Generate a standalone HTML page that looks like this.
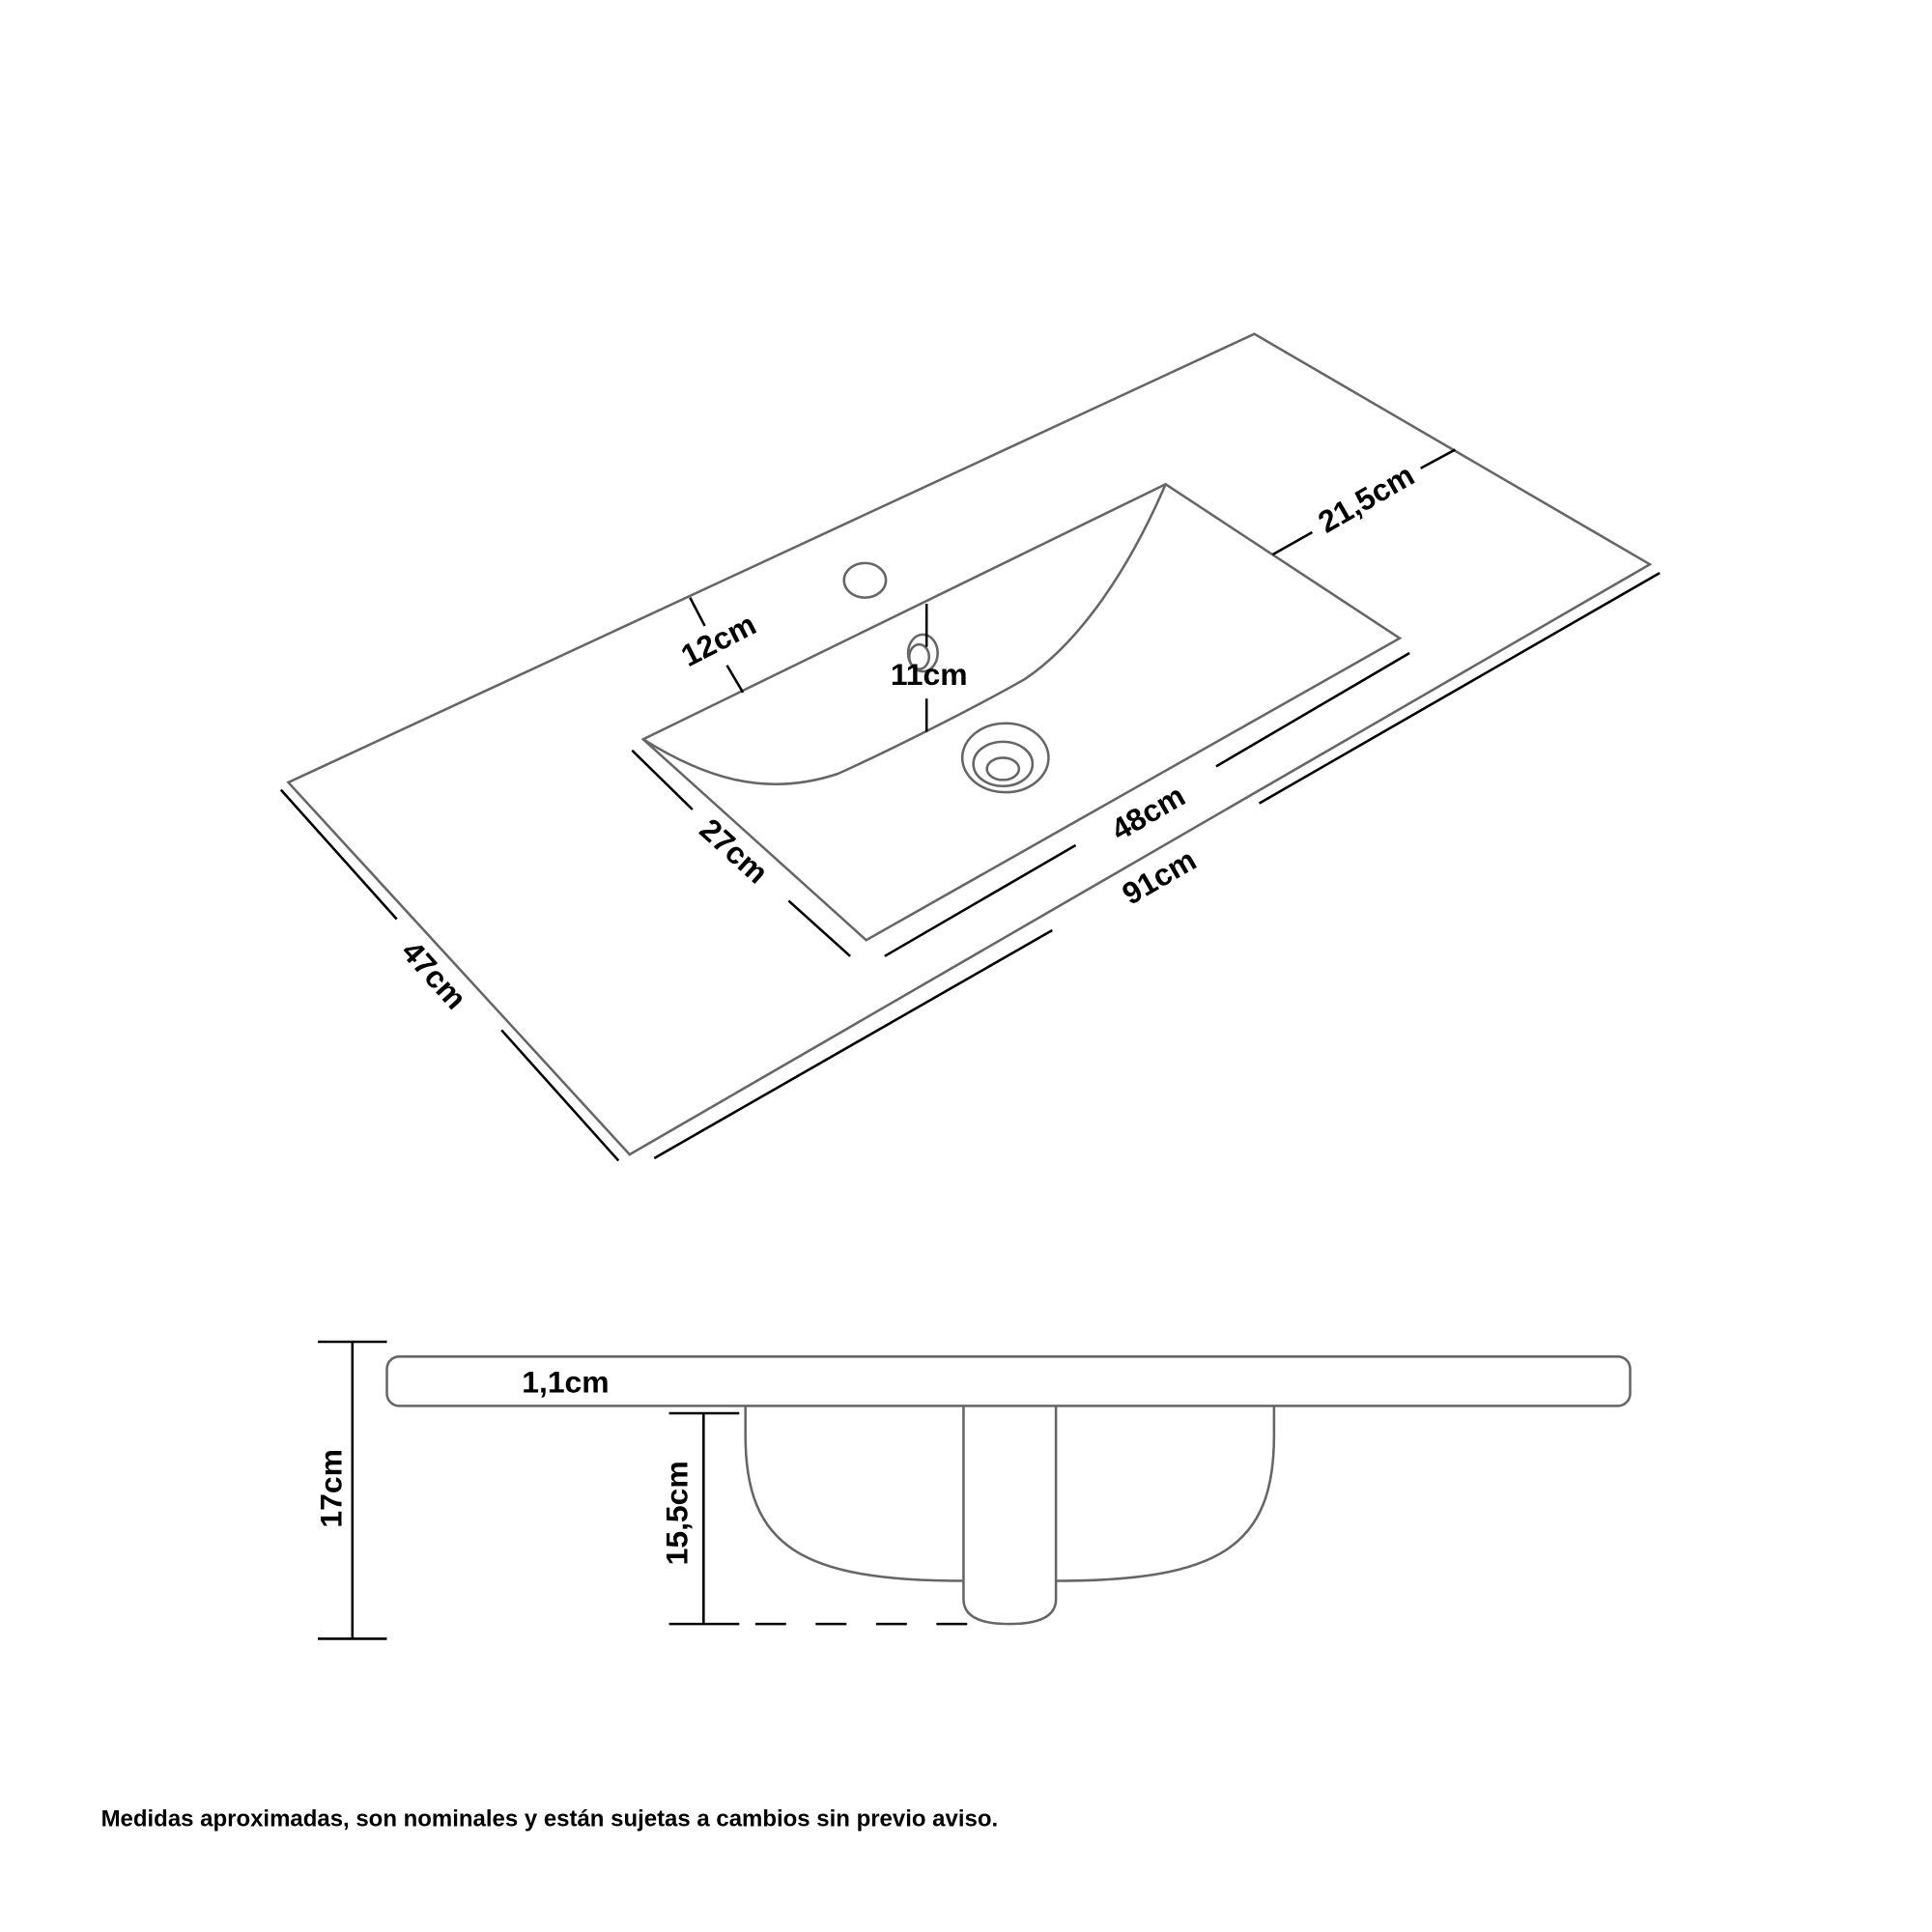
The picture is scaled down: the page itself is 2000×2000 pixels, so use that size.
<!DOCTYPE html>
<html><head><meta charset="utf-8"><style>
html,body{margin:0;padding:0;background:#fff;}
svg{display:block;}
text{font-family:"Liberation Sans",Arial,sans-serif;font-weight:bold;fill:#000;}
</style></head><body>
<svg width="2000" height="2000" viewBox="0 0 1568 1568" xmlns="http://www.w3.org/2000/svg">
<g fill="none" stroke="#666" stroke-width="2">
<polygon points="234,635 1018,271 1339,458 511,937"/>
<path d="M522,600 L946,393 L1136,518 L703,763 Z"/>
<path d="M946,393 C915,465 875,522 832,551 C790,575 720,610 680,628 C620,648 570,630 522,600"/>
<ellipse cx="702" cy="471" rx="17" ry="14"/>
<ellipse cx="749" cy="530" rx="12" ry="15"/>
<ellipse cx="746" cy="533" rx="8" ry="10"/>
<ellipse cx="816" cy="615" rx="35" ry="28"/>
<ellipse cx="814" cy="620" rx="24" ry="18"/>
<ellipse cx="814" cy="624" rx="13" ry="9"/>
</g>
<g stroke="#000" stroke-width="2" fill="none">
<line x1="560" y1="485" x2="572" y2="508"/><line x1="590" y1="540" x2="603" y2="562"/>
<line x1="752" y1="490" x2="752" y2="525"/><line x1="752" y1="567" x2="752" y2="594"/>
<line x1="1033" y1="450" x2="1065" y2="432"/><line x1="1153" y1="380" x2="1181" y2="365"/>
<line x1="987" y1="622" x2="1144" y2="530"/><line x1="718" y1="776" x2="873" y2="686"/>
<line x1="1022" y1="652" x2="1347" y2="465"/><line x1="531" y1="940" x2="854" y2="755"/>
<line x1="513" y1="609" x2="562" y2="657"/><line x1="640" y1="731" x2="690" y2="776"/>
<line x1="228" y1="641" x2="322" y2="746"/><line x1="407" y1="836" x2="502" y2="942"/>
</g>
<g font-size="25" text-anchor="middle">
<text transform="translate(587,527) rotate(-27)">12cm</text>
<text x="754" y="556">11cm</text>
<text transform="translate(1113,412) rotate(-30)">21,5cm</text>
<text transform="translate(936,667) rotate(-30)">48cm</text>
<text transform="translate(945,719) rotate(-30)">91cm</text>
<text transform="translate(590,697) rotate(42)">27cm</text>
<text transform="translate(346,797) rotate(48)">47cm</text>
</g>
<g fill="none" stroke="#666" stroke-width="2">
<rect x="314" y="1101" width="1009" height="40" rx="10"/>
<path d="M605,1141 L605,1165 C605,1255 650,1283 782,1283"/>
<path d="M857,1283 C990,1283 1034,1255 1034,1165 L1034,1141"/>
<path d="M782,1141 L782,1298 Q782,1318 819,1318 Q857,1318 857,1298 L857,1141"/>
</g>
<g stroke="#000" stroke-width="2" fill="none">
<line x1="286" y1="1089" x2="286" y2="1330"/>
<line x1="258" y1="1089" x2="314" y2="1089"/><line x1="258" y1="1330" x2="314" y2="1330"/>
<line x1="571" y1="1147" x2="571" y2="1318"/>
<line x1="543" y1="1147" x2="600" y2="1147"/><line x1="543" y1="1318" x2="600" y2="1318"/>
<line x1="613" y1="1318" x2="790" y2="1318" stroke-dasharray="25,24"/>
</g>
<g font-size="25" text-anchor="middle">
<text x="459" y="1130">1,1cm</text>
<text transform="translate(277,1208) rotate(-90)">17cm</text>
<text transform="translate(558,1228) rotate(-90)">15,5cm</text>
</g>
<text x="82" y="1482" font-size="19" textLength="728" lengthAdjust="spacingAndGlyphs">Medidas aproximadas, son nominales y están sujetas a cambios sin previo aviso.</text>
</svg>
</body></html>
